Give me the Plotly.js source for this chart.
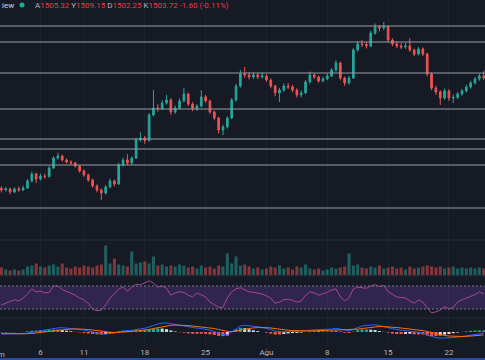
<!DOCTYPE html>
<html>
<head>
<meta charset="utf-8">
<script src="https://cdn.plot.ly/plotly-3.0.1.min.js"></script>
<style>html,body{margin:0;padding:0;background:#161a25;}#chart{width:485px;height:360px;}</style>
</head>
<body>
<div id="chart"></div>
<script>
// 12-hour candles, starting 2019-07-01 12:00
const opens = [1421.0,1419.7,1420.5,1418.2,1420.5,1419.7,1421.2,1426.5,1431.7,1428.0,
1430.2,1429.8,1436.2,1443.7,1445.2,1442.2,1440.7,1440.0,1437.7,1434.0,
1431.0,1427.2,1422.7,1419.7,1417.5,1422.0,1426.5,1424.2,1438.5,1442.2,
1440.0,1443.7,1457.2,1458.7,1456.9,1476.0,1481.2,1480.8,1485.0,1487.2,
1478.2,1481.2,1486.5,1491.7,1484.2,1480.5,1482.7,1489.5,1486.5,1478.2,
1473.7,1464.7,1467.0,1473.7,1487.2,1497.7,1506.7,1506.0,1504.5,1506.0,
1504.5,1505.2,1502.2,1497.7,1492.5,1494.7,1497.7,1497.0,1494.7,1491.0,
1492.5,1500.7,1506.0,1504.5,1501.5,1503.0,1505.2,1509.7,1515.0,1503.7,
1500.0,1503.7,1524.7,1529.2,1528.8,1527.7,1537.5,1542.0,1541.2,1542.3,
1532.2,1529.2,1527.7,1527.0,1527.7,1524.7,1521.7,1525.5,1521.7,1506.7,
1496.2,1493.2,1488.7,1494.0,1488.7,1489.2,1491.7,1494.0,1497.0,1500.0,
1503.0,1505.32];
const highs = [1422.5,1422.0,1421.4,1421.8,1422.3,1423.0,1428.0,1433.5,1432.8,1431.9,
1432.0,1437.6,1445.0,1447.6,1446.3,1443.4,1442.0,1440.9,1438.6,1435.2,
1432.0,1428.3,1423.9,1421.0,1423.4,1428.3,1427.5,1440.0,1444.0,1446.5,
1445.0,1459.0,1463.0,1460.2,1477.5,1494.7,1484.0,1487.0,1491.0,1488.5,
1483.0,1488.4,1496.2,1492.8,1485.6,1484.1,1494.7,1491.0,1487.6,1479.4,
1474.6,1468.7,1475.0,1488.6,1499.3,1509.7,1512.0,1508.0,1508.2,1507.4,
1507.8,1506.6,1503.4,1498.6,1496.3,1499.6,1500.0,1498.6,1496.0,1494.5,
1502.2,1508.5,1507.3,1505.5,1504.6,1506.9,1511.2,1517.2,1516.0,1504.8,
1505.4,1526.2,1531.5,1532.2,1530.6,1539.2,1544.6,1543.4,1545.7,1543.0,
1533.5,1531.0,1529.8,1530.0,1533.7,1525.8,1527.0,1526.6,1522.6,1507.8,
1498.0,1494.6,1495.8,1495.2,1491.4,1493.3,1495.5,1498.6,1501.6,1504.5,
1507.0,1509.15];
const lows = [1417.8,1418.6,1416.5,1417.3,1418.4,1418.9,1420.6,1425.4,1424.9,1426.9,
1428.1,1429.0,1435.4,1442.5,1441.0,1439.5,1438.6,1436.5,1432.8,1429.6,
1425.9,1421.5,1417.9,1412.2,1416.2,1421.0,1422.4,1423.5,1437.2,1438.4,
1438.6,1443.0,1455.8,1454.4,1456.0,1474.8,1478.4,1479.6,1483.8,1476.1,
1476.8,1480.0,1485.3,1482.6,1478.9,1479.0,1481.6,1485.2,1476.8,1472.0,
1462.0,1460.9,1465.8,1472.9,1486.0,1496.5,1503.9,1502.6,1503.0,1502.8,
1503.3,1500.8,1496.0,1490.0,1485.7,1493.4,1495.4,1493.0,1489.1,1489.2,
1491.6,1499.6,1502.8,1500.1,1500.4,1502.0,1504.3,1508.5,1502.0,1497.8,
1498.7,1503.0,1523.5,1526.8,1525.8,1526.9,1536.0,1538.6,1539.5,1530.6,
1527.6,1526.0,1525.3,1525.6,1523.3,1520.0,1520.6,1520.2,1505.0,1494.5,
1491.0,1483.5,1487.4,1486.5,1485.0,1488.0,1490.4,1492.8,1495.7,1498.8,
1501.6,1502.25];
const closes = [1419.7,1420.5,1418.2,1420.5,1419.7,1421.2,1426.5,1431.7,1428.0,1430.2,
1429.8,1436.2,1443.7,1445.2,1442.2,1440.7,1440.0,1437.7,1434.0,1431.0,
1427.2,1422.7,1419.7,1417.5,1422.0,1426.5,1424.2,1438.5,1442.2,1440.0,
1443.7,1457.2,1458.7,1456.9,1476.0,1481.2,1480.8,1485.0,1487.2,1478.2,
1481.2,1486.5,1491.7,1484.2,1480.5,1482.7,1489.5,1486.5,1478.2,1473.7,
1464.7,1467.0,1473.7,1487.2,1497.7,1506.7,1506.0,1504.5,1506.0,1504.5,
1505.2,1502.2,1497.7,1492.5,1494.7,1497.7,1497.0,1494.7,1491.0,1492.5,
1500.7,1506.0,1504.5,1501.5,1503.0,1505.2,1509.7,1515.0,1503.7,1500.0,
1503.7,1524.7,1529.2,1528.8,1527.7,1537.5,1542.0,1541.2,1542.3,1532.2,
1529.2,1527.7,1527.0,1527.7,1524.7,1521.7,1525.5,1521.7,1506.7,1496.2,
1493.2,1488.7,1494.0,1488.7,1489.2,1491.7,1494.0,1497.0,1500.0,1503.0,
1505.3,1503.72];
const volumes = [8,6,5,6,5,6,9,10,12,9, 8,10,11,9,12,8,7,9,8,10,
9,8,10,11,30,12,17,11,10,9, 24,12,13,14,12,19,10,11,9,10,
9,11,10,8,9,7,10,8,9,7, 10,9,22,12,19,10,11,9,7,8,
6,7,9,8,10,7,8,6,9,8, 11,7,6,7,5,6,8,7,8,9,
22,10,11,8,7,9,8,10,7,8, 9,7,8,6,9,7,8,9,10,9,
8,9,7,8,9,7,8,7,8,7, 8,7];
const rsi = [37,40,42,46,44,49,56,65,60,61, 58,59,70,70,64,61,58,54,49,46,
40,30,27,28,37,49,56,65,68,61, 68,73,72,75,79,75,68,70,66,54,
58,60,59,54,51,58,54,51,42,37, 33,33,49,60,65,67,63,60,59,58,
56,53,49,40,42,46,47,45,42,44, 54,60,58,54,56,59,63,65,51,44,
49,65,68,67,66,70,72,69,71,60, 55,51,50,49,44,40,46,42,32,23,
25,28,34,30,33,42,46,49,51,55, 60,56];
const macd = [-1.5,-1.5,-1.6,-1.5,-1.4,-1.3,-0.8,-0.2,0.3,0.8,
1.2,1.8,2.6,3.1,3.2,3.0,2.8,2.4,2.0,1.5,
0.8,0.0,-0.8,-1.4,-1.5,-1.2,-0.9,0.2,0.9,1.1,
1.3,2.0,2.4,2.8,4.0,5.2,6.0,6.6,6.8,6.2,
5.6,5.0,4.6,3.8,3.2,2.9,2.6,2.2,1.4,0.4,
-1.0,-2.0,-2.1,0.2,2.5,4.5,5.0,4.8,4.4,4.0,
3.4,2.8,1.8,0.6,0.1,0.1,0.2,0.3,0.2,0.3,
0.8,1.4,1.6,1.5,1.6,1.8,2.2,2.8,2.2,1.2,
0.9,2.0,3.5,4.5,5.0,5.3,5.4,4.8,4.2,3.5,
2.5,1.8,1.5,1.3,1.0,0.2,-0.3,-0.8,-2.2,-3.5,
-4.3,-4.6,-4.6,-4.5,-4.2,-3.8,-3.3,-2.8,-2.2,-1.7,
-1.3,-1.0];
const signal = [-1.2,-1.3,-1.4,-1.4,-1.4,-1.4,-1.3,-1.1,-0.8,-0.5,
-0.1,0.3,0.8,1.3,1.7,2.0,2.2,2.3,2.3,2.2,
1.9,1.5,1.0,0.5,0.1,-0.2,-0.4,-0.3,-0.1,0.1,
0.4,0.7,1.0,1.4,1.9,2.6,3.3,4.0,4.6,5.0,
5.2,5.2,5.1,4.8,4.5,4.2,3.9,3.6,3.2,2.6,
1.9,1.1,0.5,0.2,0.6,1.4,2.1,2.7,3.1,3.3,
3.4,3.3,3.0,2.5,2.0,1.6,1.3,1.1,0.9,0.7,
0.7,0.8,0.9,1.0,1.1,1.3,1.5,1.8,1.9,1.8,
1.6,1.7,2.1,2.6,3.1,3.5,3.9,4.1,4.1,4.0,
3.7,3.3,3.0,2.7,2.3,1.9,1.5,1.0,0.4,-0.4,
-1.2,-2.0,-2.6,-3.0,-3.3,-3.4,-3.4,-3.3,-3.1,-2.8,
-2.5,-2.2];
const levels = [1542.7,1530.7,1507.45,1480.45,1457.95,1450.45,1438.45,1406.2];
const tickDates = ['2019-07-06','2019-07-11','2019-07-18','2019-07-25','2019-08-01','2019-08-08','2019-08-15','2019-08-22'];
const tickLabels = ['6','11','18','25','Ağu','8','15','22'];

const t0 = Date.UTC(2019,6,1,12);
const times = closes.map((_, i) => new Date(t0 + i*12*3600e3).toISOString().slice(0,16).replace('T',' '));
const up = closes.map((c, i) => c >= opens[i]);
const volColors = up.map(u => u ? 'rgba(38,166,154,0.5)' : 'rgba(239,83,80,0.5)');
const hist = macd.map((m, i) => +(m - signal[i]).toFixed(2));
const histColors = hist.map((h, i) => {
  const prev = i > 0 ? hist[i-1] : h;
  if (h >= 0) return h >= prev ? '#26a69a' : '#b2dfdb';
  return h <= prev ? '#ff5252' : '#ffcdd2';
});

const H = 346; // plot-area height in px
const py = p => 1 - p / H;
const px = p => p / 485;

const traces = [
  {type:'candlestick', x:times, open:opens, high:highs, low:lows, close:closes,
   xaxis:'x', yaxis:'y', whiskerwidth:0, hoverinfo:'skip',
   increasing:{line:{color:'#26a69a', width:1}, fillcolor:'#26a69a'},
   decreasing:{line:{color:'#ef5350', width:1}, fillcolor:'#ef5350'}},
  {type:'bar', x:times, y:volumes, xaxis:'x', yaxis:'y2', marker:{color:volColors, line:{width:0}}, hoverinfo:'skip'},
  {type:'scatter', mode:'lines', x:times, y:rsi, xaxis:'x', yaxis:'y3', line:{color:'#a8459b', width:1}, hoverinfo:'skip'},
  {type:'bar', x:times, y:hist, xaxis:'x', yaxis:'y4', marker:{color:histColors, line:{width:0}}, hoverinfo:'skip'},
  {type:'scatter', mode:'lines', x:times, y:macd, xaxis:'x', yaxis:'y4', line:{color:'#2962ff', width:1}, hoverinfo:'skip'},
  {type:'scatter', mode:'lines', x:times, y:signal, xaxis:'x', yaxis:'y4', line:{color:'#ff6d00', width:1}, hoverinfo:'skip'}
];

const shapes = [];
levels.forEach(l => shapes.push({type:'line', xref:'paper', yref:'y', x0:0, x1:1, y0:l, y1:l, line:{color:'#9a9da6', width:1}}));
shapes.push({type:'rect', xref:'paper', yref:'y3', x0:0, x1:1, y0:30, y1:70, fillcolor:'rgba(126,70,194,0.25)', line:{width:0}, layer:'below'});
[70,30].forEach(v => shapes.push({type:'line', xref:'paper', yref:'y3', x0:0, x1:1, y0:v, y1:v, line:{color:'#787b86', width:1, dash:'2px,2px'}}));
[240, 276, 318].forEach(p => shapes.push({type:'line', xref:'paper', yref:'paper', x0:0, x1:1, y0:py(p), y1:py(p), line:{color:'#262a36', width:1}}));
shapes.push({type:'circle', xref:'paper', yref:'paper', x0:px(19.5), x1:px(24.5), y0:py(7.5), y1:py(2.5), fillcolor:'#22ab94', line:{width:0}});
shapes.push({type:'rect', xref:'paper', yref:'paper', x0:0, x1:1, y0:py(360), y1:py(358), fillcolor:'#2b4aa0', line:{width:0}});

const red = '#f23645', gray = '#b2b5be';
const header = `<span style="color:${gray}">A</span><span style="color:${red}">1505.32</span> ` +
  `<span style="color:${gray}">Y</span><span style="color:${red}">1509.15</span> ` +
  `<span style="color:${gray}">D</span><span style="color:${red}">1502.25</span> ` +
  `<span style="color:${gray}">K</span><span style="color:${red}">1503.72</span> ` +
  `<span style="color:${red}">-1.60 (-0.11%)</span>`;

const annotations = [
  {xref:'paper', yref:'paper', x:0, y:py(5), xanchor:'left', yanchor:'middle', text:'iew', showarrow:false, font:{family:'Roboto', size:8, color:'#d1d4dc'}},
  {xref:'paper', yref:'paper', x:px(33), y:py(5), xanchor:'left', yanchor:'middle', text:header, showarrow:false, font:{family:'Roboto', size:8, color:red}},
  {xref:'paper', yref:'paper', x:px(-3), y:py(354), xanchor:'center', yanchor:'middle', text:'Tem', showarrow:false, font:{family:'Roboto', size:8, color:gray}}
];

const layout = {
  width:485, height:360,
  margin:{l:0, r:0, t:0, b:14, pad:0},
  paper_bgcolor:'#161a25', plot_bgcolor:'#161a25',
  showlegend:false, bargap:0.3, boxgap:0.45,
  xaxis:{type:'date', range:['2019-07-01 08:09','2019-08-26 03:36'], anchor:'y4',
         tickvals:tickDates, ticktext:tickLabels, tickfont:{family:'Roboto', size:8, color:gray},
         showgrid:true, gridcolor:'rgba(255,255,255,0.035)', zeroline:false, showline:false, ticks:'',
         rangeslider:{visible:false}, fixedrange:true},
  yaxis:{domain:[py(238), 1], range:[1383.7, 1562.2], showticklabels:false, showgrid:false, zeroline:false},
  yaxis2:{domain:[py(275.5), py(240)], range:[0, 35.5], showticklabels:false, showgrid:false, zeroline:false},
  yaxis3:{domain:[py(318), py(276)], range:[14.3, 87.4], showticklabels:false, showgrid:false, zeroline:false},
  yaxis4:{domain:[0, py(318)], range:[-10.5, 10.5], showticklabels:false, showgrid:false, zeroline:false},
  shapes:shapes, annotations:annotations
};

Plotly.newPlot('chart', traces, layout, {displayModeBar:false, staticPlot:true});
</script>
</body>
</html>
